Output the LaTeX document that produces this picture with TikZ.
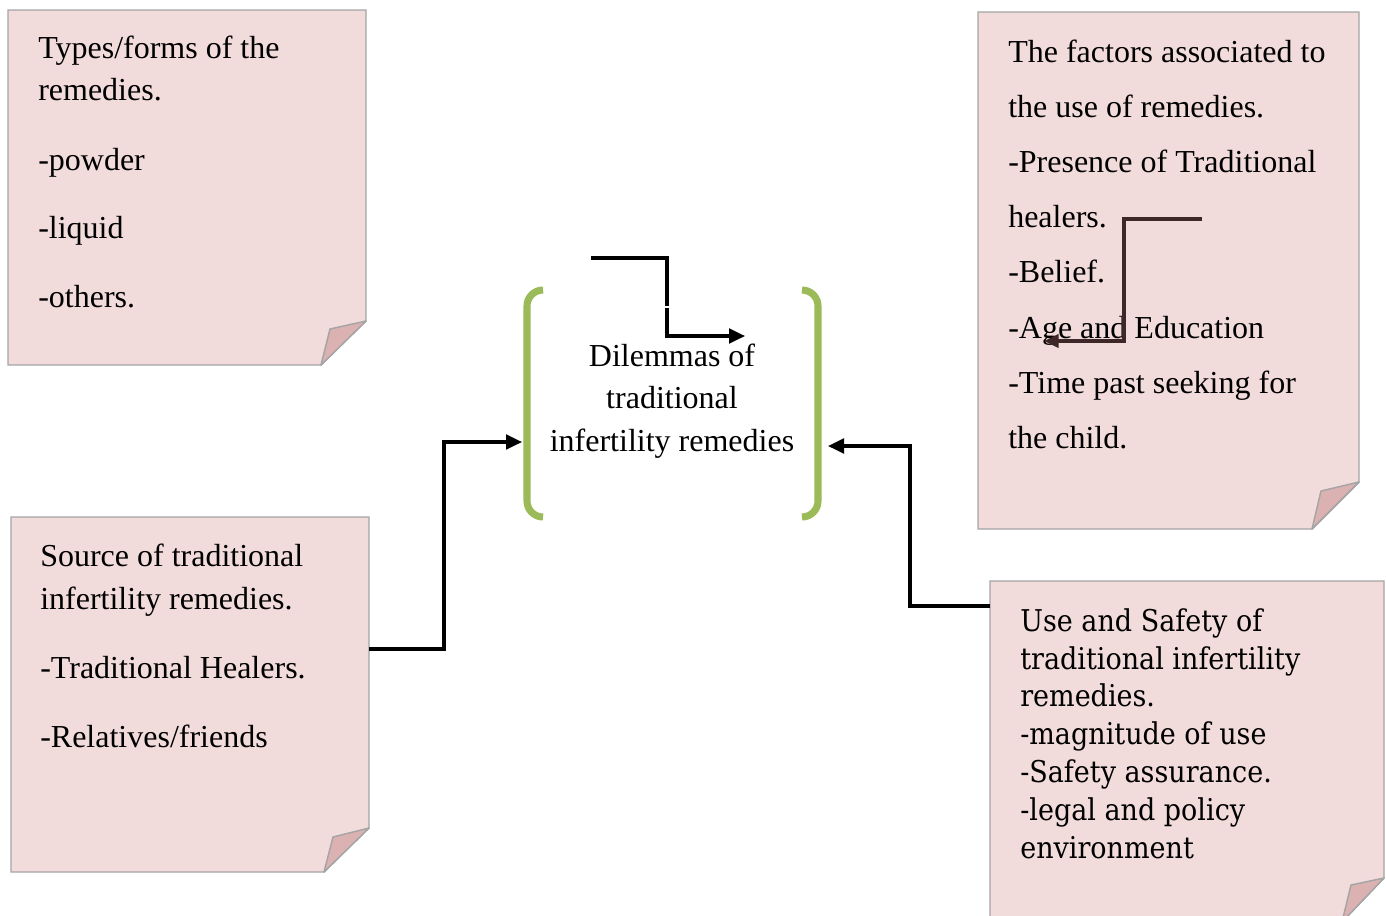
\documentclass[tikz,border=0pt]{standalone}
\usepackage{fontspec}
\setmainfont{Liberation Serif}
\newfontfamily\cambriafont{DejaVu Serif}[FakeStretch=0.9]
\usetikzlibrary{arrows.meta}
\definecolor{notefill}{HTML}{F2DBDB}
\definecolor{flapfill}{HTML}{DBB2B1}
\definecolor{noteline}{HTML}{A5A5A5}
\definecolor{brkgreen}{HTML}{9BBB59}
\definecolor{darkarrow}{HTML}{3E2727}
\tikzset{
  notebox/.style={fill=notefill, draw=noteline, line width=1.1pt, line join=miter},
  flapbox/.style={fill=flapfill, draw=noteline, line width=1.1pt, line join=round},
  txt/.style={anchor=base west, inner sep=0pt, font=\fontsize{24}{28}\selectfont},
  ctxt/.style={anchor=base, inner sep=0pt, font=\fontsize{24}{28}\selectfont},
  ctxtb/.style={anchor=base west, inner sep=0pt, font=\cambriafont\fontsize{22.5}{27}\selectfont},
  conn/.style={draw=black, line width=2.3pt, -{Triangle[length=12pt,width=11pt]}},
  darkconn/.style={draw=darkarrow, line width=2.4pt, -{Triangle[length=11pt,width=10pt]}},
  brk/.style={draw=brkgreen, line width=5.3pt, line cap=butt}
}
\begin{document}
\begin{tikzpicture}[x=0.75pt,y=-0.75pt]
\useasboundingbox (0,0) rectangle (1386,915);
\clip (0,0) rectangle (1386,915);
\fill[white] (0,0) rectangle (1386,915);

% ---- Top-left note
\draw[notebox] (8,10) -- (366,10) -- (366,321) -- (321,365) -- (8,365) -- cycle;
\draw[flapbox] (366,321) -- (330,329) -- (321,365) -- cycle;
\node[txt] (tl1) at (38,58) {Types/forms of the};
\node[txt] (tl2) at (38,100) {remedies.};
\node[txt] (tl3) at (38,170) {-powder};
\node[txt] (tl4) at (38,238) {-liquid};
\node[txt] (tl5) at (38,307) {-others.};

% ---- Top-right note
\draw[notebox] (978,12) -- (1359,12) -- (1359,482) -- (1312,529) -- (978,529) -- cycle;
\draw[flapbox] (1359,482) -- (1321,491) -- (1312,529) -- cycle;
\node[txt] (tr1) at (1008,62) {The factors associated to};
\node[txt] (tr2) at (1008,117) {the use of remedies.};
\node[txt] (tr3) at (1008,172) {-Presence of Traditional};
\node[txt] (tr4) at (1008,227) {healers.};
\node[txt] (tr5) at (1008,282) {-Belief.};
\node[txt] (tr6) at (1008,338) {-Age and Education};
\node[txt] (tr7) at (1008,393) {-Time past seeking for};
\node[txt] (tr8) at (1008,448) {the child.};

% ---- Bottom-left note
\draw[notebox] (11,517) -- (369,517) -- (369,828) -- (324,872) -- (11,872) -- cycle;
\draw[flapbox] (369,828) -- (333,837) -- (324,872) -- cycle;
\node[txt] (bl1) at (40,566) {Source of traditional};
\node[txt] (bl2) at (40,609) {infertility remedies.};
\node[txt] (bl3) at (40,678) {-Traditional Healers.};
\node[txt] (bl4) at (40,747) {-Relatives/friends};

% ---- Bottom-right note
\draw[notebox] (990,581) -- (1384,581) -- (1384,878) -- (1342,922) -- (990,922) -- cycle;
\draw[flapbox] (1384,878) -- (1351,885) -- (1342,922) -- cycle;
\node[ctxtb] (br1) at (1020,631) {Use and Safety of};
\node[ctxtb] (br2) at (1020,669) {traditional infertility};
\node[ctxtb] (br3) at (1020,706) {remedies.};
\node[ctxtb] (br4) at (1020,744) {-magnitude of use};
\node[ctxtb] (br5) at (1020,782) {-Safety assurance.};
\node[ctxtb] (br6) at (1020,820) {-legal and policy};
\node[ctxtb] (br7) at (1020,858) {environment};

% ---- Central brackets and text
\draw[brk] (543,290) arc[start angle=-90, end angle=-180, radius=16] -- (527,501) arc[start angle=180, end angle=90, radius=16];
\draw[brk] (802,290) arc[start angle=-90, end angle=0, radius=16] -- (818,501) arc[start angle=0, end angle=90, radius=16];
\node[ctxt] (d1) at (672,366) {Dilemmas of};
\node[ctxt] (d2) at (672,408) {traditional};
\node[ctxt] (d3) at (672,451) {infertility remedies};

% ---- Connector end points
\coordinate (topstart) at (591,258);
\coordinate (topend) at (745,336);
\coordinate (blE) at (369,649);
\coordinate (lbrk) at (522,442);
\coordinate (brW) at (990,606);
\coordinate (rbrk) at (828,446);
\coordinate (dstart) at (1202,219);
\coordinate (dend) at (1044,341);

% ---- Connectors
\draw[conn] (topstart) -- (667,258) -- (667,336) -- (topend);
\draw[white, line width=1.2pt] (664,307) -- (670,307);
\draw[conn] (blE) -- (444,649) -- (444,442) -- (lbrk);
\draw[conn] (brW) -- (910,606) -- (910,446) -- (rbrk);
\draw[darkconn] (dstart) -- (1124,219) -- (1124,341) -- (dend);
\end{tikzpicture}
\end{document}
